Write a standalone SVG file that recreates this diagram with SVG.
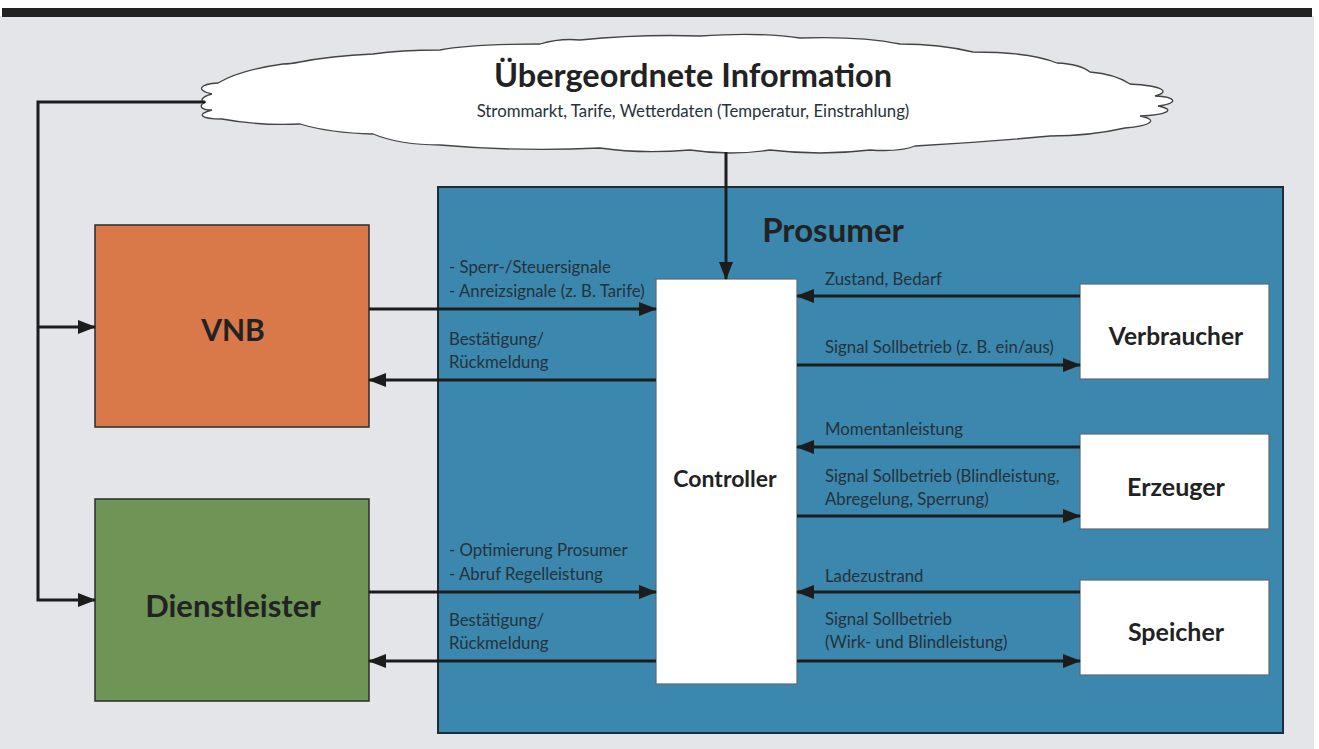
<svg xmlns="http://www.w3.org/2000/svg" width="1319" height="749" viewBox="0 0 1319 749">
<style>
.lbl{font-family:Lato,"Open Sans","Liberation Sans",sans-serif;font-size:16.8px;fill:#25323b}
.big{font-family:Lato,"Open Sans","Liberation Sans",sans-serif;font-weight:bold;fill:#222}
.conn{stroke:#1c1c1c;stroke-width:3;fill:none}
.wbox{fill:#ffffff;stroke:#5a6a75;stroke-width:1.2}
</style>
<defs>
<marker id="ah" markerWidth="18" markerHeight="14" refX="17" refY="7" orient="auto" markerUnits="userSpaceOnUse">
<path d="M0,0 L18,7 L0,14 Z" fill="#1c1c1c"/>
</marker>
</defs>
<rect x="0" y="0" width="1319" height="749" fill="#ffffff"/>
<rect x="0" y="16" width="1314" height="733" fill="#e3e5e9"/>
<rect x="2" y="8" width="1310" height="9" fill="#222222"/>

<g id="cloud">
<path d="M 218,83 C 200,84 195,90 212,94 C 200,97 200,102 206,102 C 198,105 200,110 212,110 C 196,114 200,119 222,119 Q 260,126 300,124 Q 330,133 373,134 Q 400,145 440,145 Q 520,152 600,148 Q 640,154 690,150 Q 730,156 770,150 Q 820,156 870,150 Q 900,152 915,146 Q 985,142 1050,136 Q 1090,136 1125,128 C 1150,126 1160,120 1140,116 C 1165,115 1178,110 1158,106 C 1180,103 1176,97 1155,96 C 1170,92 1165,86 1130,84 Q 1115,74 1090,72 Q 1080,64 1057,63 Q 1030,52 973,52 Q 940,44 900,44 Q 860,36 800,38 Q 760,32 700,36 Q 640,34 580,40 Q 560,38 540,44 Q 470,44 440,50 Q 400,50 373,54 Q 330,56 300,62 Q 290,64 283,64 Q 240,70 218,83 Z" fill="#ffffff" stroke="#444" stroke-width="1.3"/>
<text x="693" y="87" text-anchor="middle" class="big" font-size="32.5">Übergeordnete Information</text>
<text x="693" y="117" text-anchor="middle" class="lbl" font-size="16">Strommarkt, Tarife, Wetterdaten (Temperatur, Einstrahlung)</text>
</g>

<g id="prosumer">
<rect x="438" y="187" width="845" height="546" fill="#3b87ad" stroke="#1f2d38" stroke-width="2"/>
<text x="833" y="242" text-anchor="middle" class="big" font-size="33">Prosumer</text>
</g>

<g id="vnb">
<rect x="95" y="225" width="274" height="202" fill="#d9794a" stroke="#2b2b2b" stroke-width="1.5"/>
<text x="233" y="341" text-anchor="middle" class="big" font-size="30">VNB</text>
</g>

<g id="dienstleister">
<rect x="95" y="499" width="274" height="202" fill="#6e9456" stroke="#2b2b2b" stroke-width="1.5"/>
<text x="233" y="617" text-anchor="middle" class="big" font-size="31">Dienstleister</text>
</g>

<g id="controller">
<rect x="656" y="279" width="141" height="405" class="wbox"/>
<text x="725" y="487" text-anchor="middle" class="big" font-size="23">Controller</text>
</g>

<g id="verbraucher">
<rect x="1080" y="284" width="189" height="95" class="wbox"/>
<text x="1176" y="345" text-anchor="middle" class="big" font-size="24.5">Verbraucher</text>
</g>

<g id="erzeuger">
<rect x="1080" y="434" width="189" height="95" class="wbox"/>
<text x="1176" y="496" text-anchor="middle" class="big" font-size="25">Erzeuger</text>
</g>

<g id="speicher">
<rect x="1080" y="580" width="189" height="95" class="wbox"/>
<text x="1176" y="641" text-anchor="middle" class="big" font-size="25">Speicher</text>
</g>

<g id="connectors">
<path class="conn" d="M 205,102 L 38,102 L 38,600 L 95,600" marker-end="url(#ah)"/>
<path class="conn" d="M 38,327 L 95,327" marker-end="url(#ah)"/>
<path class="conn" d="M 726,152 L 726,279" marker-end="url(#ah)"/>
<path class="conn" d="M 369,309 L 656,309" marker-end="url(#ah)"/>
<path class="conn" d="M 656,380 L 369,380" marker-end="url(#ah)"/>
<path class="conn" d="M 369,592 L 656,592" marker-end="url(#ah)"/>
<path class="conn" d="M 656,661 L 369,661" marker-end="url(#ah)"/>
<path class="conn" d="M 1080,296 L 797,296" marker-end="url(#ah)"/>
<path class="conn" d="M 797,365 L 1080,365" marker-end="url(#ah)"/>
<path class="conn" d="M 1080,447 L 797,447" marker-end="url(#ah)"/>
<path class="conn" d="M 797,516 L 1080,516" marker-end="url(#ah)"/>
<path class="conn" d="M 1080,592 L 797,592" marker-end="url(#ah)"/>
<path class="conn" d="M 797,661 L 1080,661" marker-end="url(#ah)"/>
</g>

<g id="labels">
<text x="449" y="273" class="lbl">- Sperr-/Steuersignale</text>
<text x="449" y="297" class="lbl">- Anreizsignale (z. B. Tarife)</text>
<text x="449" y="345" class="lbl">Bestätigung/</text>
<text x="449" y="368" class="lbl">Rückmeldung</text>
<text x="449" y="556" class="lbl">- Optimierung Prosumer</text>
<text x="449" y="580" class="lbl">- Abruf Regelleistung</text>
<text x="449" y="626" class="lbl">Bestätigung/</text>
<text x="449" y="649" class="lbl">Rückmeldung</text>
<text x="825" y="285" class="lbl">Zustand, Bedarf</text>
<text x="825" y="353" class="lbl">Signal Sollbetrieb (z. B. ein/aus)</text>
<text x="825" y="435" class="lbl">Momentanleistung</text>
<text x="825" y="482" class="lbl">Signal Sollbetrieb (Blindleistung,</text>
<text x="825" y="505" class="lbl">Abregelung, Sperrung)</text>
<text x="825" y="582" class="lbl">Ladezustrand</text>
<text x="825" y="625" class="lbl">Signal Sollbetrieb</text>
<text x="825" y="648" class="lbl">(Wirk- und Blindleistung)</text>
</g>
</svg>
